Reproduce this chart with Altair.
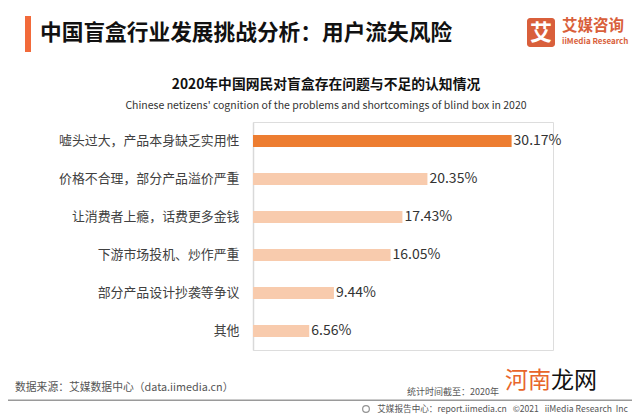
import altair as alt
import pandas as pd

categories = ["嘘头过大，产品本身缺乏实用性", "价格不合理，部分产品溢价严重", "让消费者上瘾，话费更多金钱",
              "下游市场投机、炒作严重", "部分产品设计抄袭等争议", "其他"]
values = [30.17, 20.35, 17.43, 16.05, 9.44, 6.56]
labels = ["30.17%", "20.35%", "17.43%", "16.05%", "9.44%", "6.56%"]

main_title = "中国盲盒行业发展挑战分析：用户流失风险"
chart_title = "2020年中国网民对盲盒存在问题与不足的认知情况"
chart_subtitle = "Chinese netizens' cognition of the problems and shortcomings of blind box in 2020"
source_text = "数据来源：艾媒数据中心（data.iimedia.cn）"
date_text = "统计时间截至：2020年"
NB = "\u00a0"
footer_text = ("艾媒报告中心：report.iimedia.cn" + NB * 3 + "©2021" + NB * 3 + "iiMedia" + NB +
               "Research" + NB * 2 + "Inc")

df = pd.DataFrame({"category": categories, "value": values, "label": labels})

FONT = "Noto Sans CJK SC"
OX, OY = 253, 122  # page coords of plot origin


def px(x):
    return x - OX


def py(y):
    return y - OY


base = alt.Chart(df)
y_enc = alt.Y("category:N", sort=categories,
              scale=alt.Scale(paddingInner=0, paddingOuter=0),
              axis=alt.Axis(title=None, ticks=False, labelPadding=14, labelFontSize=12.9,
                            labelLimit=400, labelColor="#404040", labelFont=FONT,
                            domainColor="#D9D9D9", domainWidth=1.5, grid=False))
x_enc = alt.X("value:Q", scale=alt.Scale(domain=[0, 35], nice=False), axis=None)

bars = base.mark_bar(size=12).encode(
    y=y_enc, x=x_enc,
    color=alt.condition(f"datum.category == '{categories[0]}'", alt.value("#ED7D31"), alt.value("#F8CBAD")),
)
vals = base.mark_text(align="left", baseline="middle", dx=2, fontSize=14, font=FONT, color="#333333").encode(
    y=alt.Y("category:N", sort=categories), x="value:Q", text="label:N")

one = pd.DataFrame({"a": [0]})


def txt(text, x, y, size, color="#333333", align="left", weight="normal", baseline="middle"):
    return alt.Chart(one).mark_text(text=text, align=align, baseline=baseline, fontSize=size,
                                    font=FONT, color=color, fontWeight=weight).encode(
        x=alt.value(px(x)), y=alt.value(py(y)))


def rect(x1, x2, y1, y2, color, radius=0):
    return alt.Chart(one).mark_rect(color=color, cornerRadius=radius).encode(
        x=alt.value(px(x1)), x2=alt.value(px(x2)), y=alt.value(py(y1)), y2=alt.value(py(y2)))


icon = alt.Chart(one).mark_point(shape="circle", size=45, filled=False, color="#666666", strokeWidth=1.2).encode(
    x=alt.value(px(366)), y=alt.value(py(409)))

deco = [
    rect(25, 31, 16, 52, "#F26A3A"),
    txt(main_title, 40, 33, 21.7, "#111111", weight="bold"),
    rect(527, 555, 18, 47, "#D95F3B", radius=3),
    txt("艾", 541, 33, 22, "#FFFFFF", align="center", weight="bold"),
    txt("艾媒咨询", 562, 26, 15.5, "#D95F3B", weight="bold"),
    txt("iiMedia Research", 562, 42, 8, "#D95F3B", weight="bold"),
    txt(chart_title, 326, 85, 13.8, "#111111", align="center", weight="bold"),
    txt(chart_subtitle, 326, 106, 10.5, "#333333", align="center"),
    txt(source_text, 15, 388, 10.8, "#555555"),
    txt(date_text, 407, 392, 9, "#555555"),
    txt("河南", 505, 381, 23, "#E8652B"),
    txt("龙网", 551, 381, 23, "#111111"),
    rect(8, 632, 399.5, 401, "#9A9A9A"),
    icon,
    txt(footer_text, 628, 409, 8.6, "#555555", align="right"),
]

chart = alt.layer(bars, vals, *deco).properties(
    width=300, height=228,
    autosize=alt.AutoSizeParams(type="none"),
    padding={"left": 245, "top": 114, "right": 79, "bottom": 66},
).configure_view(stroke=None).configure(background="white")

chart.save("out.html", embed_options={"renderer": "svg", "actions": False})
